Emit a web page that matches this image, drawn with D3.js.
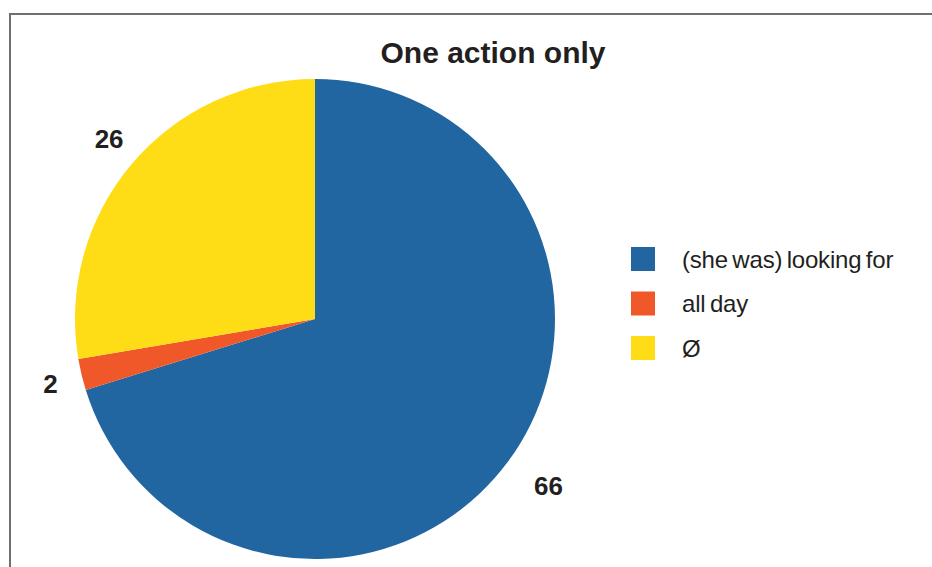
<!DOCTYPE html>
<html>
<head>
<meta charset="utf-8">
<script src="https://cdn.jsdelivr.net/npm/d3@7"></script>
<style>
  html, body { margin: 0; padding: 0; background: #fff; }
  svg { display: block; font-family: "Liberation Sans", Arial, sans-serif; }
</style>
</head>
<body>
<svg id="chart" width="932" height="567"></svg>
<script>
// ── Data ─────────────────────────────────────────────────────────
const categories = ['(she was) looking for', 'all day', 'Ø'];
const counts = [66, 2, 26];
const colors = ['#2166a0', '#f0582a', '#fedd17'];

const W = 932, H = 567;
const cx = 315, cy = 319, radius = 240;

const svg = d3.select('#chart');

// Frame (runs past the right and bottom edges)
svg.append('rect')
  .attr('x', 10).attr('y', 14)
  .attr('width', W + 20).attr('height', H + 20)
  .attr('fill', 'none')
  .attr('stroke', '#707070')
  .attr('stroke-width', 2);

// Title
svg.append('text')
  .attr('x', 493).attr('y', 63)
  .attr('text-anchor', 'middle')
  .attr('font-size', '30px')
  .attr('font-weight', 'bold')
  .attr('fill', '#231f20')
  .text('One action only');

// ── Pie ──────────────────────────────────────────────────────────
const data = categories.map((c, i) => ({ label: c, value: counts[i], color: colors[i] }));

const pie = d3.pie().value(d => d.value).sort(null);
const arc = d3.arc().innerRadius(0).outerRadius(radius);
const labelArc = d3.arc().innerRadius(radius * 1.167).outerRadius(radius * 1.167);

const g = svg.append('g').attr('transform', `translate(${cx},${cy})`);
const slices = pie(data);

g.selectAll('path.slice')
  .data(slices)
  .enter()
  .append('path')
  .attr('class', 'slice')
  .attr('d', arc)
  .attr('fill', d => d.data.color);

// value labels sit outside the rim, nudged a little to the right
g.selectAll('text.value')
  .data(slices)
  .enter()
  .append('text')
  .attr('class', 'value')
  .attr('transform', d => {
    const [x, y] = labelArc.centroid(d);
    return `translate(${x + 8},${y})`;
  })
  .attr('text-anchor', 'middle')
  .attr('dy', '0.36em')
  .attr('font-size', '26px')
  .attr('font-weight', 'bold')
  .attr('fill', '#231f20')
  .text(d => d.data.value);

// ── Legend ───────────────────────────────────────────────────────
const legend = svg.append('g').attr('transform', 'translate(631, 247)');

data.forEach((d, i) => {
  const row = legend.append('g').attr('transform', `translate(0, ${i * 44.5})`);
  row.append('rect')
    .attr('width', 24).attr('height', 24)
    .attr('fill', d.color);
  row.append('text')
    .attr('x', 51).attr('y', 20.5)
    .attr('font-size', '24px')
    .attr('fill', '#231f20')
    .attr('letter-spacing', '-0.2px')
    .attr('word-spacing', '-2px')
    .text(d.label);
});
</script>
</body>
</html>
